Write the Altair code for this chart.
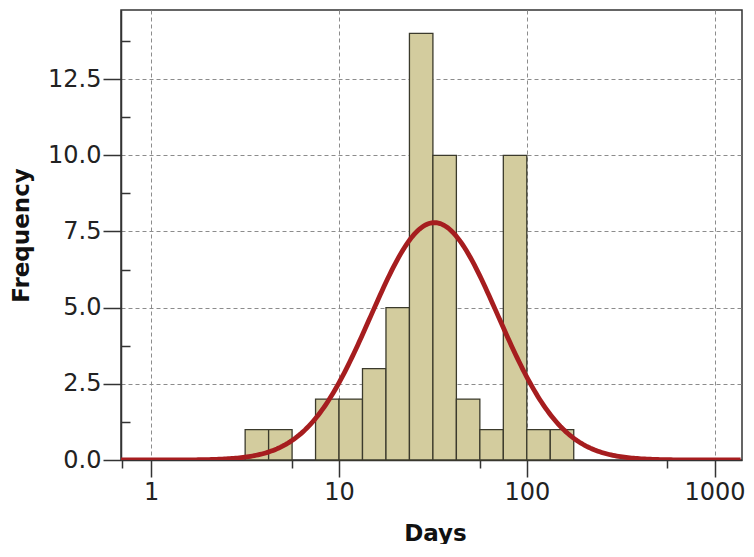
import math
import altair as alt
import pandas as pd

# Histogram bins (log10 of Days) and counts
bin_start_log = [0.5, 0.625, 0.75, 0.875, 1.0, 1.125, 1.25, 1.375, 1.5, 1.625, 1.75, 1.875, 2.0, 2.125]
bin_counts = [1, 1, 0, 2, 2, 3, 5, 14, 10, 2, 1, 10, 1, 1]
bin_width_log = 0.125

x_major_ticks = [1, 10, 100, 1000]
x_minor_ticks = [0.7, 5.6, 56, 560]
y_major_ticks = [0, 2.5, 5, 7.5, 10, 12.5]
y_minor_ticks = [1.25, 3.75, 6.25, 8.75, 11.25, 13.75]

x_domain = [0.69, 1400]
y_domain = [0, 14.77]

bars = pd.DataFrame({
    "lo": [10 ** b for b in bin_start_log],
    "hi": [10 ** (b + bin_width_log) for b in bin_start_log],
    "count": bin_counts,
})
bars = bars[bars["count"] > 0]

# Normal fit in log space, derived from the histogram
n = sum(bin_counts)
mids = [b + bin_width_log / 2 for b in bin_start_log]
mean = sum(m * c for m, c in zip(mids, bin_counts)) / n
sd = math.sqrt(sum(c * (m - mean) ** 2 for m, c in zip(mids, bin_counts)) / (n - 1))
peak = n * bin_width_log / (sd * math.sqrt(2 * math.pi))

W, H = 621, 450
FONT = "DejaVu Sans"

xscale = alt.Scale(type="log", domain=x_domain, nice=False)
yscale = alt.Scale(domain=y_domain, nice=False, zero=True)

bar_layer = alt.Chart(bars).mark_rect(
    fill="#d3cc9e", stroke="#3b3a2c", strokeWidth=1.3
).encode(
    x=alt.X("lo:Q", scale=xscale, axis=alt.Axis(
        values=x_major_ticks, format="d", title="Days", orient="bottom",
        grid=True, gridDash=[4, 3], gridColor="#8c8c8c", gridWidth=1,
        ticks=True, tickSize=17, tickColor="#333", tickWidth=1.5,
        domainColor="#333", domainWidth=1.5,
        labelFont=FONT, labelFontSize=24, labelColor="#222", labelPadding=3,
        titleFont=FONT, titleFontSize=23, titleFontWeight="bold", titleColor="#111",
        titleX=314, titleY=73, titleBaseline="middle",
    )),
    x2="hi:Q",
    y=alt.Y("count:Q", scale=yscale, axis=alt.Axis(
        values=y_major_ticks, format=".1f", title="Frequency", orient="left",
        grid=True, gridDash=[4, 3], gridColor="#8c8c8c", gridWidth=1,
        ticks=True, tickSize=18, tickColor="#333", tickWidth=1.5,
        domainColor="#333", domainWidth=1.5,
        labelFont=FONT, labelFontSize=24, labelColor="#222", labelPadding=2,
        titleFont=FONT, titleFontSize=23, titleFontWeight="bold", titleColor="#111",
        titleX=-100, titleY=H / 2, titleBaseline="middle", titleAngle=-90,
    )),
    y2=alt.datum(0),
)

curve_layer = alt.Chart(alt.sequence(math.log10(x_domain[0]), math.log10(x_domain[1]) + 0.002, 0.01, as_="lx")).transform_calculate(
    days="pow(10, datum.lx)",
    freq=f"{peak} * exp(-0.5 * pow((datum.lx - {mean}) / {sd}, 2))",
).mark_line(color="#a61d1f", strokeWidth=4.8, clip=True).encode(
    x=alt.X("days:Q", scale=xscale, axis=alt.Axis(
        values=x_minor_ticks, labels=False, grid=False, title=None, orient="bottom",
        domain=False, tickSize=8, tickColor="#333", tickWidth=1.5,
    )),
    y=alt.Y("freq:Q", scale=yscale, axis=alt.Axis(
        values=y_minor_ticks, labels=False, grid=False, title=None, orient="right",
        offset=-W, domain=False, tickSize=9, tickColor="#333", tickWidth=1.5,
    )),
)

chart = alt.layer(bar_layer, curve_layer).resolve_axis(
    x="independent", y="independent"
).properties(
    width=W, height=H,
    autosize=alt.AutoSizeParams(type="none"),
    padding={"left": 113, "top": 2, "right": 4, "bottom": 84},
    background="white",
).configure_view(stroke="#333", strokeWidth=1.5)

chart.save("out.html", embed_options={"renderer": "svg", "actions": False})
